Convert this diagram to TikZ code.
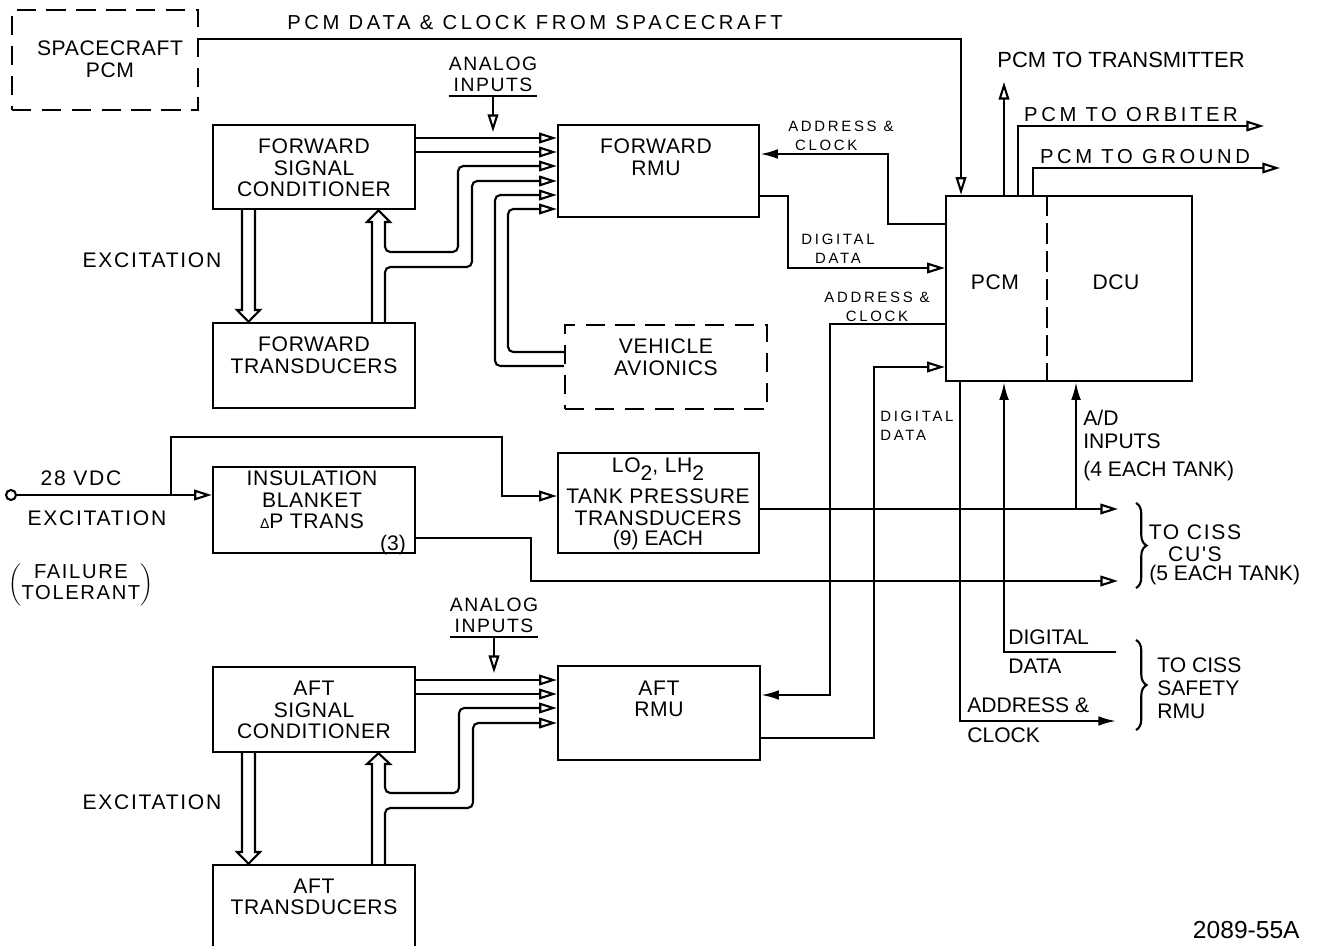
\documentclass[tikz,border=0pt]{standalone}
\usepackage{fontspec}
\setmainfont{Liberation Sans}[LetterSpace=3]
\newfontfamily\wideltr{Liberation Sans}[LetterSpace=18]
\newfontfamily\midltr{Liberation Sans}[LetterSpace=8]
\newfontfamily\plainltr{Liberation Sans}
\usetikzlibrary{positioning,arrows.meta,decorations.pathreplacing}
\tikzset{
  blk/.style={draw, line width=1.4pt, inner sep=0pt},
  dblk/.style={blk, dash pattern=on 11pt off 6pt},
  txt/.style={align=center, inner sep=0pt, font=\fontsize{12}{12.3}\selectfont},
  ttl/.style={inner sep=0pt, font=\wideltr\fontsize{11.5}{12}\selectfont},
  sml/.style={align=left, inner sep=0pt, font=\wideltr\fontsize{8.5}{10.5}\selectfont},
  ltr/.style={align=center, inner sep=0pt, font=\midltr\fontsize{12}{12.3}\selectfont},
  ana/.style={align=center, inner xsep=0pt, inner ysep=2.5pt, font=\midltr\fontsize{11}{11.8}\selectfont},
  hel/.style={align=left, inner sep=0pt, font=\plainltr\fontsize{12}{13}\selectfont},
  wire/.style={line width=1.2pt},
  opn/.style={wire, -{Triangle[open, length=10pt, width=6pt]}},
  fll/.style={wire, -{Latex[length=10pt, width=5.5pt]}},
  bus/.style={wire, rounded corners=3pt},
}
\begin{document}
\begin{tikzpicture}[x=0.02cm, y=-0.02cm]
\useasboundingbox (0,0) rectangle (1322,946);

% blocks
\node[dblk, minimum width=3.72cm, minimum height=2cm] (scpcm) at (105,60) {};
\node[blk, minimum width=4.04cm, minimum height=1.68cm] (fsc) at (314,167) {};
\node[blk, minimum width=4.04cm, minimum height=1.70cm] (ftr) at (314,365.5) {};
\node[blk, minimum width=4.02cm, minimum height=1.84cm] (frmu) at (658.5,171) {};
\node[dblk, minimum width=4.04cm, minimum height=1.68cm] (avi) at (666,367) {};
\node[blk, minimum width=4.92cm, minimum height=3.70cm] (pcm) at (1069,288.5) {};
\node[blk, minimum width=4.04cm, minimum height=1.72cm] (ins) at (314,510) {};
\node[blk, minimum width=4.02cm, minimum height=2.00cm] (tank) at (658.5,503) {};
\node[blk, minimum width=4.04cm, minimum height=1.70cm] (asc) at (314,709.5) {};
\node[blk, minimum width=4.04cm, minimum height=1.90cm] (atr) at (314,912.5) {};
\node[blk, minimum width=4.04cm, minimum height=1.88cm] (armu) at (659,713) {};
\node[circle, draw, line width=1.2pt, minimum size=0.2cm, inner sep=0pt] (vdc) at (11,495) {};

% block texts
\node[txt] (scpcmT) at (110,59) {SPACECRAFT\\PCM};
\node[txt] (fscT) at (314,168) {FORWARD\\SIGNAL\\CONDITIONER};
\node[txt] (frmuT) at (656,157) {FORWARD\\RMU};
\node[txt] (ftrT) at (314,355) {FORWARD\\TRANSDUCERS};
\node[txt] (aviT) at (666,357) {VEHICLE\\AVIONICS};
\node[txt] (pcmT) at (995,282) {PCM};
\node[txt] (dcuT) at (1116,282) {DCU};
\node[txt] (insT) at (312,500) {INSULATION\\BLANKET\\{\fontsize{8}{8}\selectfont Δ}P TRANS};
\node[hel] (insN) at (393,545) {(3)};
\node[txt, anchor=base] (tankA) at (658,472) {LO\raisebox{-5pt}{2}, LH\raisebox{-5pt}{2}};
\node[txt] (tankT) at (658,507) {TANK PRESSURE\\TRANSDUCERS};
\node[hel] (tankN) at (658,540) {(9) EACH};
\node[txt] (ascT) at (314,710) {AFT\\SIGNAL\\CONDITIONER};
\node[txt] (armuT) at (659,699) {AFT\\RMU};
\node[txt] (atrT) at (314,897) {AFT\\TRANSDUCERS};

% spacecraft feed
\draw[opn] (scpcm.east |- 0,39) -| (pcm.north -| 961,0);
\node[ttl] (feedT) at (535,23) {PCM DATA \& CLOCK FROM SPACECRAFT};

% forward section
\node[ana, anchor=south] (fanT) at (493,96) {ANALOG\\INPUTS};
\draw[wire] (fanT.south west) -- (fanT.south east);
\coordinate (fanTip) at (493,132);
\draw[opn] (fanT.south) -- (fanTip);
\draw[opn] (fsc.east |- 0,138) -- (frmu.west |- 0,138);
\draw[opn] (fsc.east |- 0,152) -- (frmu.west |- 0,152);
\draw[wire] (fsc.south -| 242,0) -- (242,310) -- (237,310) -- (ftr.north -| 248.5,0)
  -- (260,310) -- (255,310) -- (fsc.south -| 255,0);
\node[ltr] (fexT) at (152,260) {EXCITATION};
\draw[opn] (ftr.north -| 372,0) -- (372,222) -- (367,222) -- (fsc.south -| 378.5,0)
  -- (390,222) -- (385,222) [rounded corners=3pt] |- (458,252) |- (frmu.west |- 0,166);
\draw[opn, rounded corners=3pt] (ftr.north -| 385,0) |- (472,267) |- (frmu.west |- 0,181);
\draw[opn, rounded corners=3pt] (avi.west |- 0,366) -| (495,195) -- (frmu.west |- 0,195);
\draw[opn, rounded corners=3pt] (avi.west |- 0,352) -| (508,209) -- (frmu.west |- 0,209);

% forward RMU <-> PCM
\draw[fll] (pcm.west |- 0,224) -| (888,154) -- (frmu.east |- 0,154);
\node[sml, anchor=west] (facT) at (788,136) {ADDRESS \&\\\ CLOCK};
\draw[opn] (frmu.east |- 0,196) -| (788,268) -- (pcm.west |- 0,268);
\node[sml, align=center] (fddT) at (838,249) {DIGITAL\\DATA};

% aft RMU <-> PCM
\draw[fll] (pcm.west |- 0,324) -| (830,695) -- (armu.east |- 0,695);
\node[sml, align=center] (aacT) at (877,307) {ADDRESS \&\\CLOCK};
\draw[opn] (armu.east |- 0,738) -| (874,367) -- (pcm.west |- 0,367);
\node[sml, anchor=west] (addT) at (880,426) {DIGITAL\\DATA};

% PCM outputs
\draw[wire, dash pattern=on 12pt off 4pt] (pcm.north -| 1047,0) -- (pcm.south -| 1047,0);
\coordinate (txEnd) at (1004,82);
\draw[opn] (pcm.north -| 1004,0) -- (txEnd);
\node[hel, font=\plainltr\fontsize{12.5}{13}\selectfont] (txT) at (1121,60) {PCM TO TRANSMITTER};
\coordinate (orbEnd) at (1264,126);
\draw[opn] (pcm.north -| 1018,0) |- (orbEnd);
\node[ttl] (orbT) at (1131,115) {PCM TO ORBITER};
\coordinate (gndEnd) at (1280,168);
\draw[opn] (pcm.north -| 1033,0) |- (gndEnd);
\node[ttl] (gndT) at (1145,157) {PCM TO GROUND};

% excitation and tank transducers
\node[ltr] (vdcT) at (81,478) {28 VDC};
\node[ltr] (vexT) at (97,518) {EXCITATION};
\node[ltr, font=\midltr\fontsize{11.5}{11.5}\selectfont] (ftolT) at (81,585)
  {$\left(\vcenter{\hbox{\begin{tabular}{@{}c@{}}FAILURE\\TOLERANT\end{tabular}}}\right)$};
\draw[opn] (vdc) -- (ins.west |- vdc);
\coordinate (vbr) at (171,495);
\draw[opn] (vbr) |- (502,437) |- (tank.west |- 0,496);
\coordinate (cu1) at (1118,509);
\coordinate (cu2) at (1118,581);
\draw[opn] (tank.east |- 0,509) -- (cu1);
\draw[opn] (ins.east |- 0,538) -| (531,581) -- (cu2);
\coordinate (adIn) at (1076,509);
\draw[fll] (adIn) -- (pcm.south -| 1076,0);
\node[hel, anchor=west] (adT) at (1083,446) {A/D\\INPUTS\\[3pt](4 EACH TANK)};
\draw[wire, decorate, decoration={brace, amplitude=6pt}] (1136,503) -- (1136,588);
\node[ltr] (cuT) at (1195,543) {TO CISS\\CU'S};
\node[hel, anchor=west] (cuN) at (1149,575) {(5 EACH TANK)};

% safety RMU
\coordinate (srDD) at (1116,652);
\coordinate (srAC) at (1116,721);
\draw[fll] (srDD) -| (pcm.south -| 1004,0);
\draw[fll] (pcm.south -| 960,0) |- (srAC);
\node[hel, anchor=west] (srD1) at (1008,637) {DIGITAL};
\node[hel, anchor=west] (srD2) at (1008,666) {DATA};
\node[hel, anchor=west] (srA1) at (967,705) {ADDRESS \&};
\node[hel, anchor=west] (srA2) at (967,735) {CLOCK};
\draw[wire, decorate, decoration={brace, amplitude=6pt}] (1136,640) -- (1136,730);
\node[hel, anchor=west] (srT) at (1157,688) {TO CISS\\SAFETY\\RMU};

% aft section
\node[ana, anchor=south] (aanT) at (494,637) {ANALOG\\INPUTS};
\draw[wire] (aanT.south west) -- (aanT.south east);
\coordinate (aanTip) at (494,673);
\draw[opn] (aanT.south) -- (aanTip);
\draw[opn] (asc.east |- 0,680) -- (armu.west |- 0,680);
\draw[opn] (asc.east |- 0,694) -- (armu.west |- 0,694);
\draw[wire] (asc.south -| 242,0) -- (242,852) -- (237,852) -- (atr.north -| 248.5,0)
  -- (260,852) -- (255,852) -- (asc.south -| 255,0);
\node[ltr] (aexT) at (152,802) {EXCITATION};
\draw[opn] (atr.north -| 372,0) -- (372,764) -- (367,764) -- (asc.south -| 378.5,0)
  -- (390,764) -- (385,764) [rounded corners=3pt] |- (459,793) |- (armu.west |- 0,708);
\draw[opn, rounded corners=3pt] (atr.north -| 385,0) |- (473,808) |- (armu.west |- 0,723);

\node[hel, anchor=east, font=\plainltr\fontsize{14}{14}\selectfont] (figT) at (1300,930) {2089-55A};
\end{tikzpicture}
\end{document}
